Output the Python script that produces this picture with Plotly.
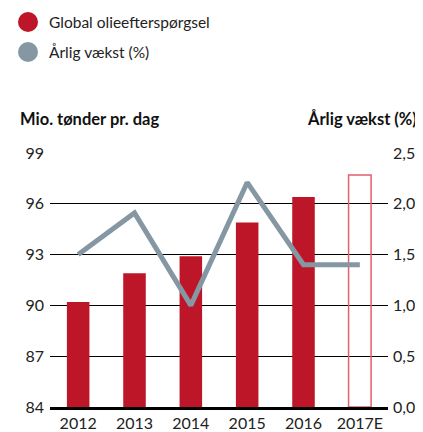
import plotly.graph_objects as go

years = ["2012", "2013", "2014", "2015", "2016", "2017E"]
demand = [90.2, 91.9, 92.9, 94.9, 96.4, 97.7]
growth = [1.5, 1.91, 1.0, 2.21, 1.4, 1.4]
left_ticks = [84, 87, 90, 93, 96, 99]
right_ticks = [0.0, 0.5, 1.0, 1.5, 2.0, 2.5]
legend_labels = ["Global olieefterspørgsel", "Årlig vækst (%)"]

RED = "#bd1628"
RED_OUTLINE = "#e0606e"
GREY = "#8697a4"
FONT = "Lato, Liberation Sans, sans-serif"

# page body has an 8px margin: lay the figure out in page pixels minus 8
OFF = 8
W, H = 423, 432
PLOT_L, PLOT_T, PLOT_R, PLOT_B = 50, 153, 388, 407   # target page pixels
L = PLOT_L - OFF
T = PLOT_T - OFF
PW = PLOT_R - PLOT_L
PH = PLOT_B - PLOT_T
R = W - L - PW
B = H - T - PH


def px_x(px):
    return (px - PLOT_L) / PW


def px_y(py):
    return (PLOT_B - py) / PH


n = len(years)
fill = [RED] * (n - 1) + ["rgba(0,0,0,0)"]
lcol = [RED] * (n - 1) + [RED_OUTLINE]
lw = [0] * (n - 1) + [1.5]

fig = go.Figure()
fig.add_trace(go.Bar(
    x=years, y=[d - left_ticks[0] for d in demand], base=left_ticks[0],
    marker=dict(color=fill, line=dict(color=lcol, width=lw)),
    showlegend=False, hoverinfo="skip",
))
fig.add_trace(go.Scatter(
    x=years, y=growth, yaxis="y2", mode="lines",
    line=dict(color=GREY, width=5),
    showlegend=False, hoverinfo="skip",
))

shapes = []
annotations = []
for i, (lab, col) in enumerate(zip(legend_labels, [RED, GREY])):
    cy = 22 + 30 * i
    shapes.append(dict(
        type="circle", xref="paper", yref="paper",
        x0=px_x(18), x1=px_x(38), y0=px_y(cy + 10), y1=px_y(cy - 10),
        fillcolor=col, line=dict(width=0),
    ))
    annotations.append(dict(
        text=lab, xref="paper", yref="paper", x=px_x(47), y=px_y(cy),
        xanchor="left", yanchor="middle", showarrow=False,
        font=dict(family=FONT, size=15.5, color="#222222"),
    ))

annotations.append(dict(
    text="<b>Mio. tønder pr. dag</b>", xref="paper", yref="paper",
    x=px_x(18), y=px_y(119), xanchor="left", yanchor="middle", showarrow=False,
    font=dict(family=FONT, size=16.5, color="#111111"),
))
annotations.append(dict(
    text="<b>Årlig vækst (%)</b>", xref="paper", yref="paper",
    x=px_x(419), y=px_y(119), xanchor="right", yanchor="middle", showarrow=False,
    font=dict(family=FONT, size=16.5, color="#111111"),
))

fig.update_layout(
    width=W, height=H,
    margin=dict(l=L, r=R, t=T, b=B, pad=0, autoexpand=False),
    paper_bgcolor="white", plot_bgcolor="white",
    separators=",.",
    bargap=0.6,
    font=dict(family=FONT, size=16, color="#222222"),
    xaxis=dict(
        type="category", showline=True, linecolor="black", linewidth=3,
        ticks="", showgrid=False, tickfont=dict(size=16), ticklabelstandoff=0,
        automargin=False,
    ),
    yaxis=dict(
        range=[84, 99], tickvals=left_ticks, showgrid=True, gridcolor="black",
        gridwidth=1, zeroline=False, ticks="", showline=False,
        tickfont=dict(size=16), ticklabelstandoff=5, automargin=False,
    ),
    yaxis2=dict(
        range=[0, 2.5], tickvals=right_ticks, tickformat=".1f",
        overlaying="y", side="right", showgrid=False, zeroline=False,
        ticks="", showline=False, tickfont=dict(size=16), ticklabelstandoff=4,
        automargin=False,
    ),
    shapes=shapes, annotations=annotations,
)

fig.write_html("out.html")
